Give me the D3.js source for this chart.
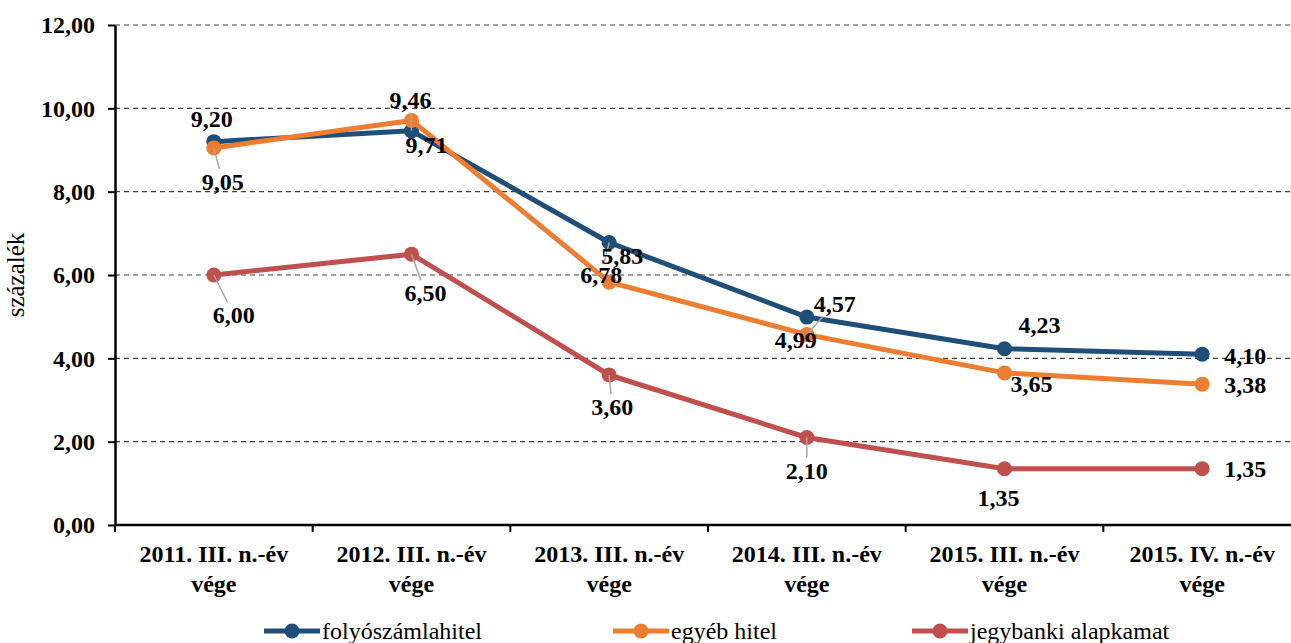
<html>
<head>
<style>
  body { margin: 0; background: #fff; }
  text { font-family: 'Liberation Serif', 'Times New Roman', serif; }
  .grid line { stroke: #404040; stroke-width: 1.2; stroke-dasharray: 5,4; }
  .lbl { font-weight: bold; font-size: 24px; }
</style>
</head>
<body>
<script src="https://cdnjs.cloudflare.com/ajax/libs/d3/7.8.5/d3.min.js"></script>
<script>

var categories = [
  ['2011. III. n.-év', 'vége'],
  ['2012. III. n.-év', 'vége'],
  ['2013. III. n.-év', 'vége'],
  ['2014. III. n.-év', 'vége'],
  ['2015. III. n.-év', 'vége'],
  ['2015. IV. n.-év', 'vége']
];
var seriesNames = ['folyószámlahitel', 'egyéb hitel', 'jegybanki alapkamat'];
var folyoszamla = [9.20, 9.46, 6.78, 4.99, 4.23, 4.10];
var egyebHitel = [9.05, 9.71, 5.83, 4.57, 3.65, 3.38];
var alapkamat = [6.00, 6.50, 3.60, 2.10, 1.35, 1.35];
var yTicks = [0, 2, 4, 6, 8, 10, 12];

var colors = ['#1f4e79', '#ed7d31', '#c0504d'];

// label placement (offset of label centre from its point) and leader flag
var labelPos = [
  [[-2, -23, 0], [-1, -31, 1], [-8, 32, 1], [-11, 23, 0], [35, -24, 0], [43, 2, 0]],
  [[9, 34, 1], [15, 25, 0], [13, -26, 0], [28, -31, 1], [27, 11, 0], [43, 1, 0]],
  [[20, 40, 1], [14, 39, 1], [3, 32, 1], [0, 33, 1], [-6, 29, 0], [43, 0, 0]]
];

var width = 1291;
var height = 643;
var mLeft = 115, mTop = 25, mBottom = 525;

var svg = d3.select('body').append('svg')
  .attr('width', width)
  .attr('height', height);

var x = d3.scaleBand()
  .domain(d3.range(categories.length))
  .range([mLeft, 1301]);

var y = d3.scaleLinear().domain([0, 12]).range([mBottom, mTop]);

var fmt = function (v) { return d3.format('.2f')(v).replace('.', ','); };

// grid
svg.append('g').attr('class', 'grid')
  .selectAll('line')
  .data(yTicks.filter(function (d) { return d > 0; }))
  .enter().append('line')
  .attr('x1', mLeft).attr('x2', width)
  .attr('y1', function (d) { return y(d); })
  .attr('y2', function (d) { return y(d); });

// y axis
var yAxis = svg.append('g')
  .attr('transform', 'translate(' + mLeft + ',0)')
  .call(d3.axisLeft(y).tickValues(yTicks).tickSize(7).tickSizeOuter(0).tickFormat(fmt));
yAxis.select('.domain').attr('stroke', '#000').attr('stroke-width', 2.5);
yAxis.selectAll('.tick line').attr('stroke', '#000').attr('stroke-width', 2);
yAxis.selectAll('.tick text')
  .attr('x', -20)
  .style('font-family', "'Liberation Serif', serif")
  .style('font-weight', 'bold')
  .style('font-size', '24px')
  .attr('fill', '#000');

// x axis line and boundary ticks
svg.append('line')
  .attr('x1', mLeft).attr('x2', width)
  .attr('y1', mBottom).attr('y2', mBottom)
  .attr('stroke', '#000').attr('stroke-width', 2.5);
svg.selectAll('.xtick')
  .data(d3.range(categories.length + 1))
  .enter().append('line')
  .attr('class', 'xtick')
  .attr('x1', function (d) { return mLeft + d * x.step(); })
  .attr('x2', function (d) { return mLeft + d * x.step(); })
  .attr('y1', mBottom).attr('y2', mBottom + 7)
  .attr('stroke', '#000').attr('stroke-width', 2);

var catText = svg.selectAll('.cat')
  .data(categories)
  .enter().append('text')
  .attr('class', 'cat lbl')
  .attr('text-anchor', 'middle')
  .attr('transform', function (d, i) { return 'translate(' + (x(i) + x.bandwidth() / 2) + ',' + 562 + ')'; });
catText.append('tspan').attr('x', 0).attr('y', 0).text(function (d) { return d[0]; });
catText.append('tspan').attr('x', 0).attr('y', 30).text(function (d) { return d[1]; });

// y title
svg.append('text')
  .attr('transform', 'translate(24,275) rotate(-90)')
  .attr('text-anchor', 'middle')
  .style('font-size', '25px')
  .text('százalék');

// series
var series = [folyoszamla, egyebHitel, alapkamat];
var cx = function (i) { return x(i) + x.bandwidth() / 2; };
var line = d3.line()
  .x(function (d, i) { return cx(i); })
  .y(function (d) { return y(d); });

series.forEach(function (s, k) {
  svg.append('path')
    .datum(s)
    .attr('d', line)
    .attr('fill', 'none')
    .attr('stroke', colors[k])
    .attr('stroke-width', 5)
    .attr('stroke-linejoin', 'round');
  svg.selectAll('.pt' + k)
    .data(s)
    .enter().append('circle')
    .attr('class', 'pt' + k)
    .attr('cx', function (d, i) { return cx(i); })
    .attr('cy', function (d) { return y(d); })
    .attr('r', 7.5)
    .attr('fill', colors[k]);
});

// leader lines
series.forEach(function (s, k) {
  s.forEach(function (v, i) {
    var p = labelPos[k][i];
    if (!p[2]) return;
    var px = cx(i), py = y(v);
    var hw = 24, hh = 13;
    var sc = Math.min(p[0] ? hw / Math.abs(p[0]) : 99, p[1] ? hh / Math.abs(p[1]) : 99);
    var ex = px + p[0] * (1 - sc), ey = py + p[1] * (1 - sc);
    svg.append('line')
      .attr('x1', px).attr('y1', py).attr('x2', ex).attr('y2', ey)
      .attr('stroke', '#a6a6a6').attr('stroke-width', 1.5);
  });
});

// data labels
series.forEach(function (s, k) {
  svg.selectAll('.dl' + k)
    .data(s)
    .enter().append('text')
    .attr('class', 'lbl dl' + k)
    .attr('text-anchor', 'middle')
    .attr('dominant-baseline', 'central')
    .attr('x', function (d, i) { return cx(i) + labelPos[k][i][0]; })
    .attr('y', function (d, i) { return y(d) + labelPos[k][i][1]; })
    .text(fmt);
});

// legend
var legendX = [264, 613, 912];
var lg = svg.selectAll('.leg')
  .data(seriesNames)
  .enter().append('g')
  .attr('transform', function (d, i) { return 'translate(' + legendX[i] + ',631)'; });
lg.append('line')
  .attr('x1', 0).attr('x2', 56)
  .attr('stroke', function (d, i) { return colors[i]; })
  .attr('stroke-width', 5);
lg.append('circle')
  .attr('cx', 28).attr('r', 7.5)
  .attr('fill', function (d, i) { return colors[i]; });
lg.append('text')
  .attr('x', 58)
  .attr('dominant-baseline', 'central')
  .style('font-size', '24px')
  .text(function (d) { return d; });

</script>
</body>
</html>
